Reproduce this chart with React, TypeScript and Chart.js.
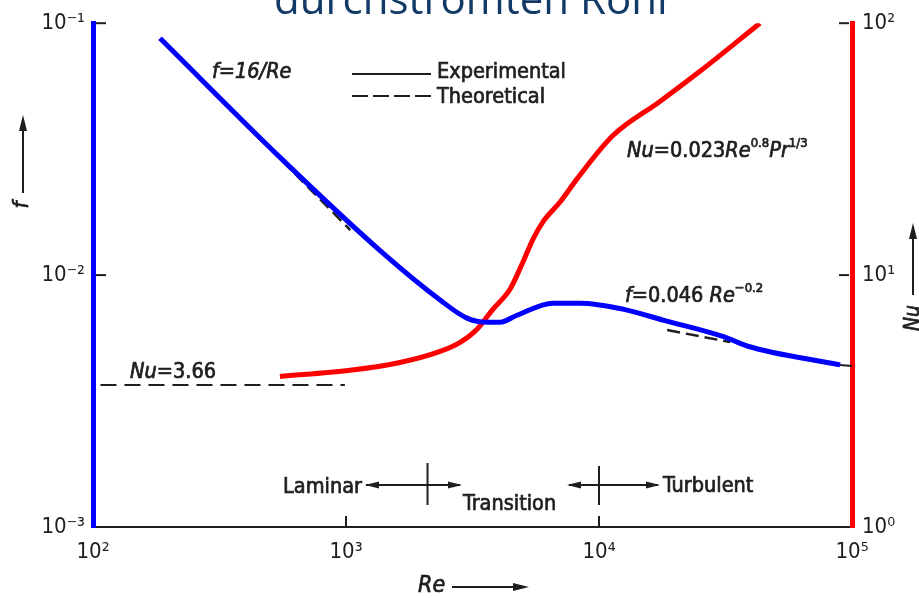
import React, { useEffect, useRef } from "react";
import { Chart, registerables } from "chart.js";

Chart.register(...registerables);

// ---- data ----
const reTicks = [100, 1000, 10000, 100000];
const fTicks = [0.001, 0.01, 0.1];
const nuTicks = [1, 10, 100];

// experimental friction factor f (blue)
const fExpRe = [184, 563, 1400, 2355, 3007, 3605, 4060, 4740, 6580, 8410, 12440, 17900, 31470, 38460, 89740];
const fExpVal = [0.0871, 0.0286, 0.01222, 0.00796, 0.00675, 0.0065, 0.0065, 0.00693, 0.00774, 0.00774, 0.00733, 0.00663, 0.00567, 0.00523, 0.0044];
// experimental Nusselt number (red)
const nuExpRe = [548, 1038, 1633, 2355, 2826, 3298, 3812, 4449, 5010, 5486, 6013, 7016, 8190, 11350, 17420, 25060, 43250];
const nuExpVal = [3.96, 4.19, 4.5, 4.98, 5.41, 6.1, 7.33, 8.79, 11.3, 13.9, 16.3, 19.5, 24.1, 35.8, 48.9, 64.4, 100];
// experimental black tail visible past the blue line
const fTailRe = [89740, 100000];
const fTailVal = [0.0044, 0.00436];
// theoretical (dashed)
const fLamThRe = [560, 1040];
const fLamThVal = [0.0284, 0.0151];
const fTurbThRe = [18600, 33000];
const fTurbThVal = [0.00605, 0.00542];
const nuLamThRe = [107, 990];
const nuLamThVal = [3.66, 3.66];
// region boundaries (Re)
const regionBounds = [2100, 10000];

const FAM = "'DejaVu Sans Condensed', 'DejaVu Sans', sans-serif";
const INK = "#1e1e1e";
const TS = 21.5;

const supMap: Record<string, string> = {
  "-": "\u207B", "0": "\u2070", "1": "\u00B9", "2": "\u00B2", "3": "\u00B3",
  "4": "\u2074", "5": "\u2075",
};
const powLabel = (v: number) =>
  "10" + String(Math.round(Math.log10(v))).split("").map((c) => supMap[c] || c).join("");

const pts = (xs: number[], ys: number[]) => xs.map((x, i) => ({ x, y: ys[i] }));

type Seg = { t: string; it?: boolean; sup?: boolean };

function rich(ctx: CanvasRenderingContext2D, x: number, y: number, segs: Seg[], size: number, align = "left") {
  const font = (s: Seg) => `${s.it ? "italic " : ""}${s.sup ? Math.round(size * 0.62) : size}px ${FAM}`;
  let w = 0;
  for (const s of segs) {
    ctx.font = font(s);
    w += ctx.measureText(s.t).width;
  }
  let cx = align === "center" ? x - w / 2 : align === "right" ? x - w : x;
  ctx.textAlign = "left";
  ctx.textBaseline = "alphabetic";
  ctx.save();
  ctx.lineWidth = 0.7;
  ctx.setLineDash([]);
  for (const s of segs) {
    ctx.font = font(s);
    const yy = s.sup ? y - size * 0.45 : y;
    ctx.fillText(s.t, cx, yy);
    ctx.strokeText(s.t, cx, yy);
    cx += ctx.measureText(s.t).width;
  }
  ctx.restore();
}

function arrowHead(ctx: CanvasRenderingContext2D, x: number, y: number, dir: "l" | "r" | "u", len = 14, half = 3.5) {
  ctx.beginPath();
  if (dir === "r") {
    ctx.moveTo(x, y); ctx.lineTo(x - len, y - half); ctx.lineTo(x - len, y + half);
  } else if (dir === "l") {
    ctx.moveTo(x, y); ctx.lineTo(x + len, y - half); ctx.lineTo(x + len, y + half);
  } else {
    ctx.moveTo(x, y); ctx.lineTo(x - half, y + len); ctx.lineTo(x + half, y + len);
  }
  ctx.closePath();
  ctx.fill();
}

function line(ctx: CanvasRenderingContext2D, x1: number, y1: number, x2: number, y2: number, w = 2, dash: number[] = []) {
  ctx.save();
  ctx.lineWidth = w;
  ctx.setLineDash(dash);
  ctx.beginPath();
  ctx.moveTo(x1, y1);
  ctx.lineTo(x2, y2);
  ctx.stroke();
  ctx.restore();
}

const annotations = {
  id: "annotations",
  afterDraw(chart: any) {
    const ctx: CanvasRenderingContext2D = chart.ctx;
    const xs = chart.scales.x;
    const ys = chart.scales.y;
    const y1s = chart.scales.y1;
    const ca = chart.chartArea;
    ctx.save();

    // title fragment (cut off at top)
    ctx.fillStyle = "#123a66";
    ctx.font = "42px 'Open Sans', 'Noto Sans', sans-serif";
    ctx.textAlign = "center";
    ctx.textBaseline = "alphabetic";
    ctx.fillText("durchströmten Rohr", 474, 14);

    ctx.fillStyle = INK;
    ctx.strokeStyle = INK;

    // inside tick marks
    for (const v of [0.1, 0.01]) {
      const py = ys.getPixelForValue(v);
      line(ctx, ca.left + 3, py, ca.left + 13, py, 2);
    }
    for (const v of [100, 10]) {
      const py = y1s.getPixelForValue(v);
      line(ctx, ca.right - 13, py, ca.right - 3, py, 2);
    }
    for (const v of [1000, 10000]) {
      const px = xs.getPixelForValue(v);
      line(ctx, px, ca.bottom, px, ca.bottom - 11, 2);
    }

    // legend
    line(ctx, 352, 74, 431, 74, 2);
    line(ctx, 352, 96, 431, 96, 2, [16, 5]);
    rich(ctx, 437, 78, [{ t: "Experimental" }], TS);
    rich(ctx, 437, 103, [{ t: "Theoretical" }], TS);

    // formulas
    rich(ctx, 212, 78, [{ t: "f", it: true }, { t: "=16/", it: true }, { t: "Re", it: true }], TS);
    rich(ctx, 627, 157, [
      { t: "Nu", it: true }, { t: "=0.023" }, { t: "Re", it: true }, { t: "0.8", sup: true },
      { t: "Pr", it: true }, { t: "1/3", sup: true },
    ], TS);
    rich(ctx, 625, 302, [{ t: "f", it: true }, { t: "=0.046 " }, { t: "Re", it: true }, { t: "\u22120.2", sup: true }], TS);
    rich(ctx, 130, 378, [{ t: "Nu", it: true }, { t: "=3.66" }], TS);

    // flow regimes
    const bx1 = xs.getPixelForValue(regionBounds[0]);
    const bx2 = xs.getPixelForValue(regionBounds[1]);
    const ay = 485;
    rich(ctx, 362, 493, [{ t: "Laminar" }], TS, "right");
    line(ctx, 366, ay, 460, ay, 2);
    arrowHead(ctx, 365, ay, "l");
    arrowHead(ctx, 462, ay, "r");
    line(ctx, bx1, 463, bx1, 505, 2);
    rich(ctx, 463, 510, [{ t: "Transition" }], TS);
    line(ctx, 569, ay, 658, ay, 2);
    arrowHead(ctx, 567, ay, "l");
    arrowHead(ctx, 660, ay, "r");
    line(ctx, bx2, 466, bx2, 505, 2);
    rich(ctx, 663, 492, [{ t: "Turbulent" }], TS);

    // x axis title
    rich(ctx, 418, 592, [{ t: "Re", it: true }], 23);
    line(ctx, 452, 587, 520, 587, 2);
    arrowHead(ctx, 529, 587, "r", 16, 4);

    // left axis title f
    line(ctx, 23, 193, 23, 128, 2);
    arrowHead(ctx, 23, 115, "u", 16, 4);
    ctx.save();
    ctx.translate(28, 205);
    ctx.rotate(-Math.PI / 2);
    rich(ctx, 0, 0, [{ t: "f", it: true }], 22, "center");
    ctx.restore();

    // right axis title Nu
    line(ctx, 913, 295, 913, 236, 2);
    arrowHead(ctx, 913, 223, "u", 16, 4);
    ctx.save();
    ctx.translate(919, 318);
    ctx.rotate(-Math.PI / 2);
    rich(ctx, 0, 0, [{ t: "Nu", it: true }], 21, "center");
    ctx.restore();

    ctx.restore();
  },
};

export default function App() {
  const ref = useRef<HTMLCanvasElement | null>(null);

  useEffect(() => {
    if (!ref.current) return;
    const tickFont = { family: FAM, size: 22 };
    const chart = new Chart(ref.current, {
      type: "scatter",
      data: {
        datasets: [
          {
            label: "f experimental",
            data: pts(fExpRe, fExpVal),
            yAxisID: "y",
            showLine: true,
            borderColor: "#0000ff",
            borderWidth: 5,
            pointRadius: 0,
            cubicInterpolationMode: "monotone",
            order: 0,
          },
          {
            label: "Nu experimental",
            data: pts(nuExpRe, nuExpVal),
            yAxisID: "y1",
            showLine: true,
            borderColor: "#ff0000",
            borderWidth: 5,
            pointRadius: 0,
            cubicInterpolationMode: "monotone",
            order: 0,
          },
          {
            label: "f experimental tail",
            data: pts(fTailRe, fTailVal),
            yAxisID: "y",
            showLine: true,
            borderColor: INK,
            borderWidth: 2,
            pointRadius: 0,
            order: 1,
          },
          {
            label: "f = 16/Re",
            data: pts(fLamThRe, fLamThVal),
            yAxisID: "y",
            showLine: true,
            borderColor: INK,
            borderWidth: 2.5,
            borderDash: [12, 6],
            pointRadius: 0,
            order: 1,
          },
          {
            label: "f = 0.046 Re^-0.2",
            data: pts(fTurbThRe, fTurbThVal),
            yAxisID: "y",
            showLine: true,
            borderColor: INK,
            borderWidth: 2.5,
            borderDash: [13, 6],
            pointRadius: 0,
            order: 1,
          },
          {
            label: "Nu = 3.66",
            data: pts(nuLamThRe, nuLamThVal),
            yAxisID: "y1",
            showLine: true,
            borderColor: INK,
            borderWidth: 2,
            borderDash: [16, 8],
            pointRadius: 0,
            order: 1,
          },
        ],
      },
      options: {
        responsive: false,
        animation: false,
        layout: { padding: { top: 23, left: 0, right: 0, bottom: 0 } },
        plugins: { legend: { display: false }, tooltip: { enabled: false }, title: { display: false } },
        scales: {
          x: {
            type: "logarithmic",
            position: "bottom",
            min: 100,
            max: 100000,
            grid: { display: false, drawTicks: false },
            border: { display: true, color: INK, width: 2 },
            ticks: {
              font: tickFont,
              color: INK,
              padding: 12,
              maxRotation: 0,
              autoSkip: false,
              callback: (v: any) => powLabel(Number(v)),
            },
            afterBuildTicks: (s: any) => {
              s.ticks = reTicks.map((value) => ({ value }));
            },
            afterFit: (s: any) => {
              s.height = 71;
            },
          },
          y: {
            type: "logarithmic",
            position: "left",
            min: 0.001,
            max: 0.1,
            grid: { display: false, drawTicks: false },
            border: { display: true, color: "#0000ff", width: 5 },
            ticks: {
              font: tickFont,
              color: INK,
              padding: 8,
              autoSkip: false,
              callback: (v: any) => powLabel(Number(v)),
            },
            afterBuildTicks: (s: any) => {
              s.ticks = fTicks.map((value) => ({ value }));
            },
            afterFit: (s: any) => {
              s.width = 93;
            },
          },
          y1: {
            type: "logarithmic",
            position: "right",
            min: 1,
            max: 100,
            grid: { display: false, drawTicks: false },
            border: { display: true, color: "#ff0000", width: 5 },
            ticks: {
              font: tickFont,
              color: INK,
              padding: 10,
              autoSkip: false,
              callback: (v: any) => powLabel(Number(v)),
            },
            afterBuildTicks: (s: any) => {
              s.ticks = nuTicks.map((value) => ({ value }));
            },
            afterFit: (s: any) => {
              s.width = 67;
            },
          },
        },
      } as any,
      plugins: [annotations],
    });
    return () => chart.destroy();
  }, []);

  return (
    <div style={{ position: "absolute", left: 0, top: 0, width: 919, height: 598, background: "#fff" }}>
      <canvas ref={ref} width={919} height={598} />
    </div>
  );
}
